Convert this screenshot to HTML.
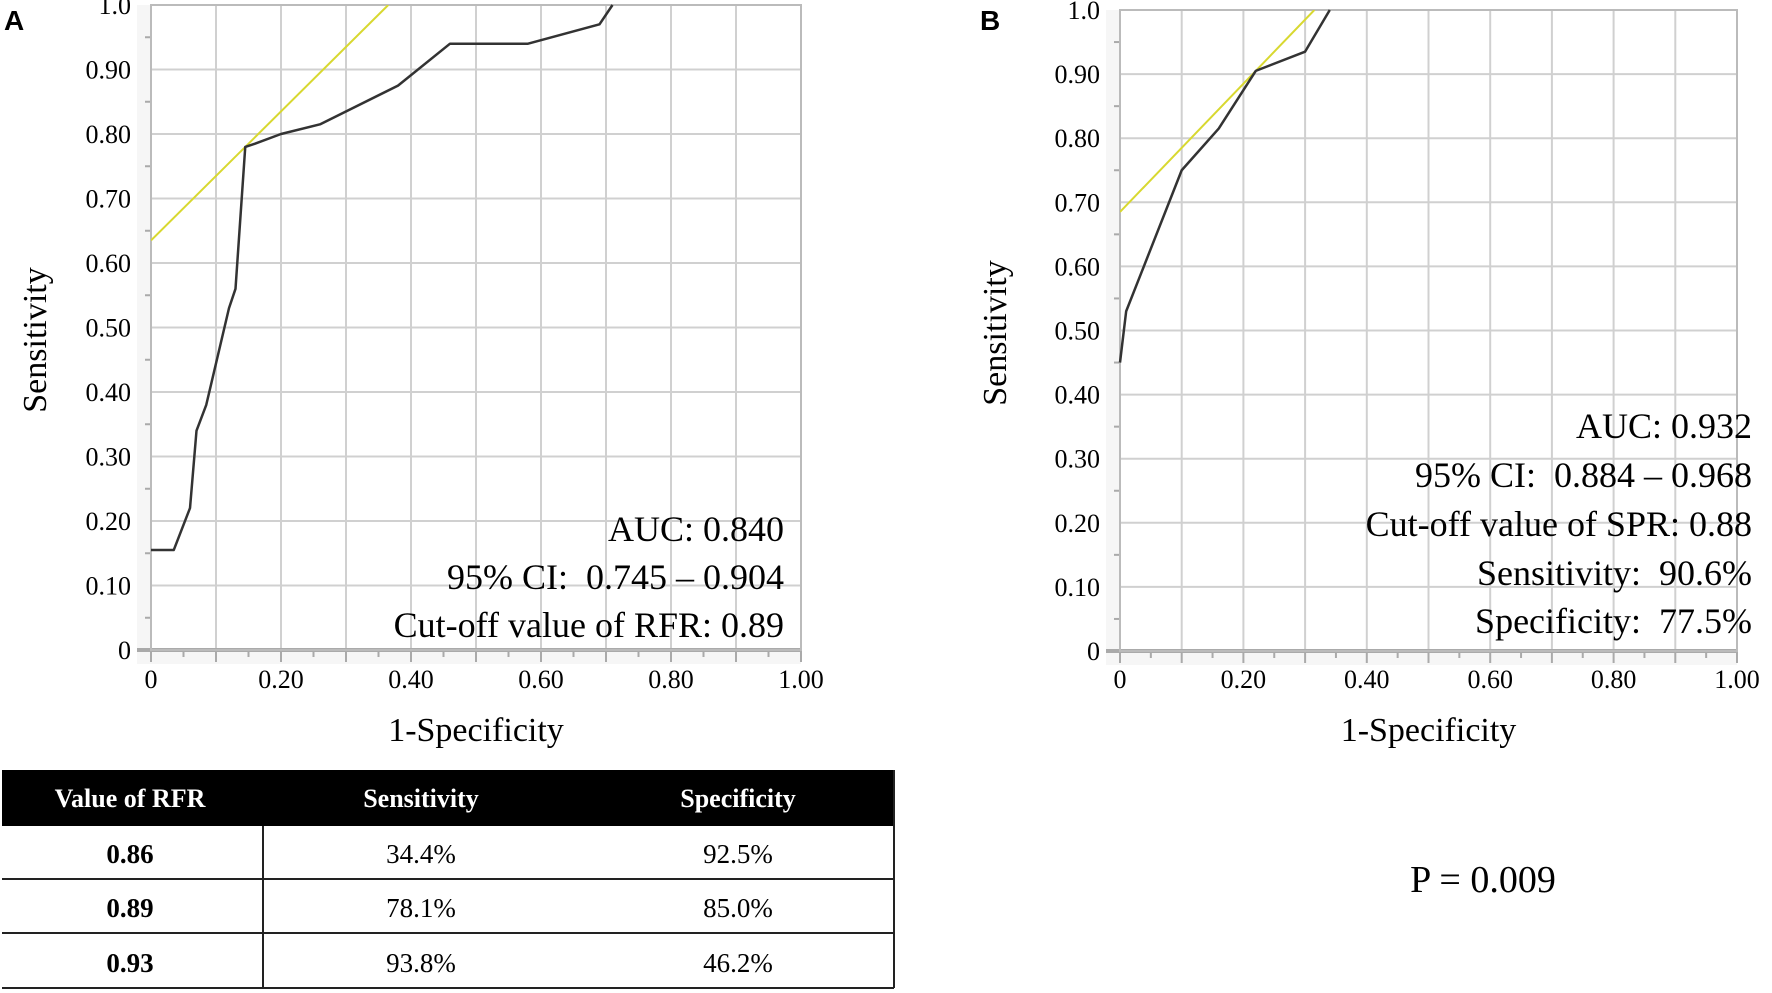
<!DOCTYPE html>
<html><head><meta charset="utf-8"><style>
body{margin:0;width:1772px;height:993px;background:#fff;overflow:hidden;font-family:"Liberation Serif",serif}
svg{position:absolute;left:0;top:0}
</style></head><body>
<svg id="s" width="1772" height="993" font-family="Liberation Serif, serif">
<text x="4" y="30" font-family="Liberation Sans, sans-serif" font-weight="bold" font-size="28">A</text>
<text x="980" y="30" font-family="Liberation Sans, sans-serif" font-weight="bold" font-size="28">B</text>
<g id="pa"></g>
<g id="pb"></g>
<g font-size="36" text-anchor="end">
<text x="784" y="541">AUC: 0.840</text>
<text x="784" y="589" xml:space="preserve">95% CI:  0.745 – 0.904</text>
<text x="784" y="637">Cut-off value of RFR: 0.89</text>
</g>
<g font-size="36" text-anchor="end">
<text x="1752" y="438">AUC: 0.932</text>
<text x="1752" y="487" xml:space="preserve">95% CI:  0.884 – 0.968</text>
<text x="1752" y="536">Cut-off value of SPR: 0.88</text>
<text x="1752" y="585" xml:space="preserve">Sensitivity:  90.6%</text>
<text x="1752" y="633" xml:space="preserve">Specificity:  77.5%</text>
</g>
<g>
<rect x="2" y="770" width="892" height="56" fill="#000"/>
<g fill="#fff" font-weight="bold" font-size="26" text-anchor="middle">
<text x="130" y="807">Value of RFR</text><text x="421" y="807">Sensitivity</text><text x="738" y="807">Specificity</text>
</g>
<g stroke="#222" stroke-width="2">
<line x1="2" y1="879" x2="894" y2="879"/><line x1="2" y1="933" x2="894" y2="933"/><line x1="2" y1="988" x2="894" y2="988"/>
<line x1="263" y1="826" x2="263" y2="988"/><line x1="894" y1="770" x2="894" y2="988"/>
</g>
<g font-size="27" text-anchor="middle">
<text x="130" y="863" font-weight="bold">0.86</text><text x="421" y="863">34.4%</text><text x="738" y="863">92.5%</text>
<text x="130" y="917" font-weight="bold">0.89</text><text x="421" y="917">78.1%</text><text x="738" y="917">85.0%</text>
<text x="130" y="972" font-weight="bold">0.93</text><text x="421" y="972">93.8%</text><text x="738" y="972">46.2%</text>
</g>
</g>
<text x="1483" y="892" font-size="38" text-anchor="middle">P = 0.009</text>
</svg>
<script>
const ticks=[0,0.1,0.2,0.3,0.4,0.5,0.6,0.7,0.8,0.9,1.0];
const yTickLabels=["0","0.10","0.20","0.30","0.40","0.50","0.60","0.70","0.80","0.90","1.0"];
const xTickLabels=["0","0.20","0.40","0.60","0.80","1.00"];
const rocAx=[0,0.035,0.06,0.07,0.085,0.12,0.13,0.145,0.16,0.2,0.26,0.38,0.46,0.58,0.69,0.71];
const rocAy=[0.155,0.155,0.22,0.34,0.38,0.53,0.56,0.78,0.785,0.80,0.815,0.875,0.94,0.94,0.97,1.0];
const tanAx=[0,0.365];
const tanAy=[0.635,1.0];
const rocBx=[0,0.01,0.1,0.16,0.22,0.3,0.34];
const rocBy=[0.45,0.53,0.75,0.815,0.905,0.935,1.0];
const tanBx=[0,0.315];
const tanBy=[0.685,1.0];
const NS="http://www.w3.org/2000/svg";
function mk(p,t,a){const e=document.createElementNS(NS,t);for(const k in a)e.setAttribute(k,a[k]);p.appendChild(e);return e;}
function chart(g,x0,x1,y0,y1,rx,ry,tx,ty,ylabX,ylabY,xtY){
 const sx=v=>x0+(x1-x0)*v, sy=v=>y0-(y0-y1)*v;
 mk(g,'rect',{x:x0-14,y:y1,width:x1-x0+14,height:y0-y1+14,fill:'#f6f6f6'});
 mk(g,'rect',{x:x0,y:y1,width:x1-x0,height:y0-y1,fill:'#fff'});
 ticks.forEach((t,i)=>{
  const gl=mk(g,'line',{x1:sx(t),x2:sx(t),y1:y1,y2:y0,stroke:'#d0d0d0','stroke-width':2});
  
  
  const gh=mk(g,'line',{x1:x0,x2:x1,y1:sy(t),y2:sy(t),stroke:'#d0d0d0','stroke-width':2});
  
  
  const lab=mk(g,'text',{x:x0-20,y:sy(t)+9,'font-size':26,'text-anchor':'end'});
  lab.textContent=yTickLabels[i];
  
  
  if(i<10){mk(g,'line',{x1:x0-6,x2:x0,y1:sy(t+0.05),y2:sy(t+0.05),stroke:'#aaa','stroke-width':2});
   mk(g,'line',{x1:sx(t+0.05),x2:sx(t+0.05),y1:y0,y2:y0+7,stroke:'#aaa','stroke-width':2});}
  mk(g,'line',{x1:sx(t),x2:sx(t),y1:y0,y2:y0+12,stroke:'#aaa','stroke-width':2});
 });
 xTickLabels.forEach((l,i)=>{
  const t=mk(g,'text',{x:sx(i*0.2),y:xtY,'font-size':26,'text-anchor':'middle'});
  t.textContent=l;
  
  
 });
 mk(g,'line',{x1:x0-14,x2:x1,y1:y0,y2:y0,stroke:'#aaa','stroke-width':4});
 mk(g,'line',{x1:x0,x2:x0,y1:y1,y2:y0,stroke:'#aaa','stroke-width':2});
 mk(g,'rect',{x:x0,y:y1,width:x1-x0,height:y0-y1,fill:'none',stroke:'#bbb','stroke-width':2});
 const clip=mk(g,'clipPath',{id:'c'+x0});mk(clip,'rect',{x:x0,y:y1,width:x1-x0,height:y0-y1});
 const tl=mk(g,'polyline',{points:tx.map((v,i)=>sx(v)+','+sy(ty[i])).join(' '),fill:'none',stroke:'#d8d830','stroke-width':2,'clip-path':'url(#c'+x0+')'});
 
 
 const rl=mk(g,'polyline',{points:rx.map((v,i)=>sx(v)+','+sy(ry[i])).join(' '),fill:'none',stroke:'#333','stroke-width':2.5,'stroke-linejoin':'round'});
 
 
 const yt=mk(g,'text',{x:0,y:0,'font-size':34,'text-anchor':'middle',transform:`translate(${ylabX},${ylabY}) rotate(-90)`});
 yt.textContent='Sensitivity';
 
 
 const xt=mk(g,'text',{x:(x0+x1)/2,y:xtY+53,'font-size':34,'text-anchor':'middle'});
 xt.textContent='1-Specificity';
 
 
}
chart(document.getElementById('pa'),151,801,650,5,rocAx,rocAy,tanAx,tanAy,46,340,688);
chart(document.getElementById('pb'),1120,1737,651,10,rocBx,rocBy,tanBx,tanBy,1006,333,688);
</script>
</body></html>
